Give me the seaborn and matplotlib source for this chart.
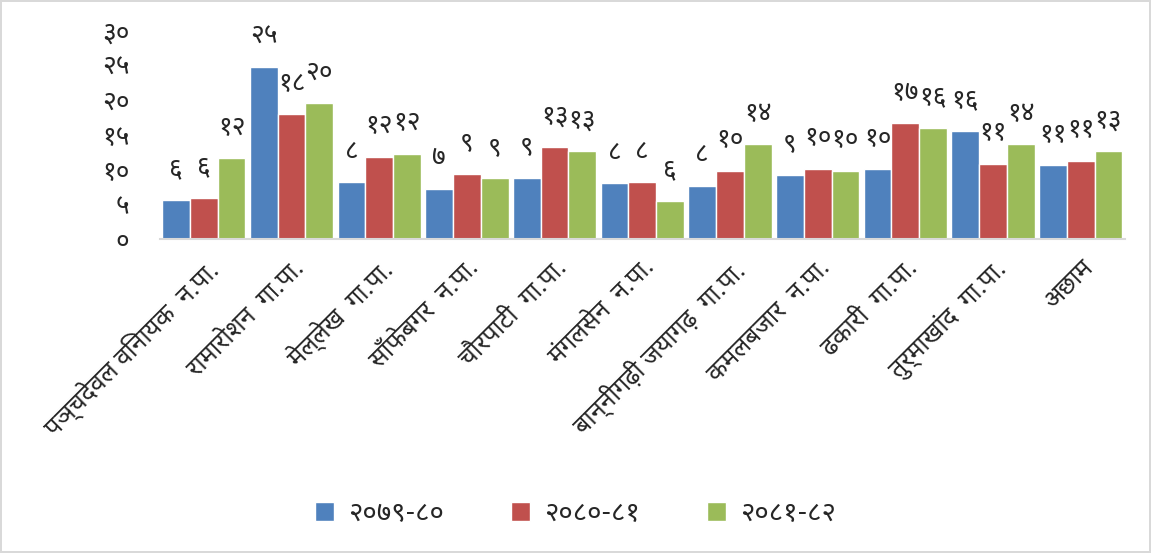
import matplotlib
matplotlib.use("Agg")
import matplotlib.pyplot as plt
import seaborn as sns
import pandas as pd

# data
municipalities = [
    "पञ्चदेवल विनायक  न.पा.",
    "रामारोशन  गा.पा.",
    "मेल्लेख  गा.पा.",
    "साँफेबगर  न.पा.",
    "चौरपाटी  गा.पा.",
    "मंगलसेन  न.पा.",
    "बान्नीगढ़ी जयागढ़  गा.पा.",
    "कमलबजार  न.पा.",
    "ढकारी  गा.पा.",
    "तुर्माखांद  गा.पा.",
    "अछाम",
]
years = ["२०७९-८०", "२०८०-८१", "२०८१-८२"]
v_7980 = [5.6, 24.6, 8.1, 7.2, 8.8, 8.0, 7.6, 9.2, 10.0, 15.5, 10.6]
v_8081 = [5.9, 17.9, 11.8, 9.3, 13.2, 8.1, 9.8, 10.1, 16.6, 10.8, 11.2]
v_8182 = [11.6, 19.5, 12.2, 8.7, 12.6, 5.5, 13.6, 9.8, 15.9, 13.6, 12.6]
y_ticks = [0, 5, 10, 15, 20, 25, 30]

colors = ["#4F81BD", "#C0504D", "#9BBB59"]
deva = str.maketrans("0123456789", "०१२३४५६७८९")


def to_deva(n):
    return str(n).translate(deva)


rows = []
for yr, vals in zip(years, [v_7980, v_8081, v_8182]):
    for m, v in zip(municipalities, vals):
        rows.append({"municipality": m, "year": yr, "value": v})
df = pd.DataFrame(rows)

sns.set_style("white")
fonts = ["Noto Sans Devanagari", "Lohit Devanagari", "Mukta", "FreeSans", "DejaVu Sans"]
plt.rcParams["font.family"] = fonts

fig = plt.figure(figsize=(11.51, 5.53), dpi=100)
ax = fig.add_axes([0.139, 0.568, 0.838, 0.378])

sns.barplot(data=df, x="municipality", y="value", hue="year",
            palette=colors, saturation=1, width=0.95,
            edgecolor="white", linewidth=1, ax=ax)

for cont in ax.containers:
    for bar in cont:
        h = bar.get_height()
        ax.annotate(to_deva(int(h + 0.5)),
                    (bar.get_x() + bar.get_width() / 2, h),
                    xytext=(0, 22), textcoords="offset points",
                    ha="center", va="center", fontsize=19)

ax.set_ylim(0, 30)
ax.set_xlim(-0.5, len(municipalities) - 0.5)
ax.set_yticks(y_ticks)
ax.set_yticklabels([to_deva(t) for t in y_ticks], fontsize=19)
ax.set_xticks(range(len(municipalities)))
ax.set_xticklabels(municipalities, rotation=45, ha="right",
                   rotation_mode="anchor", fontsize=18)
ax.tick_params(axis="x", length=0, pad=12)
ax.tick_params(axis="y", length=0, pad=22)
ax.set_xlabel("")
ax.set_ylabel("")

sns.despine(ax=ax, left=True)
ax.spines["bottom"].set_color("#D9D9D9")
ax.spines["bottom"].set_linewidth(1.5)

ax.legend(loc="center", bbox_to_anchor=(0.5, 0.07),
          bbox_transform=fig.transFigure, ncol=3, frameon=False,
          fontsize=20, handlelength=0.7, handleheight=0.7,
          handletextpad=0.5, columnspacing=2.4)

fig.patch.set_edgecolor("#D9D9D9")
fig.patch.set_linewidth(1.5)

fig.savefig("out.png", dpi=100, edgecolor=fig.get_edgecolor())
